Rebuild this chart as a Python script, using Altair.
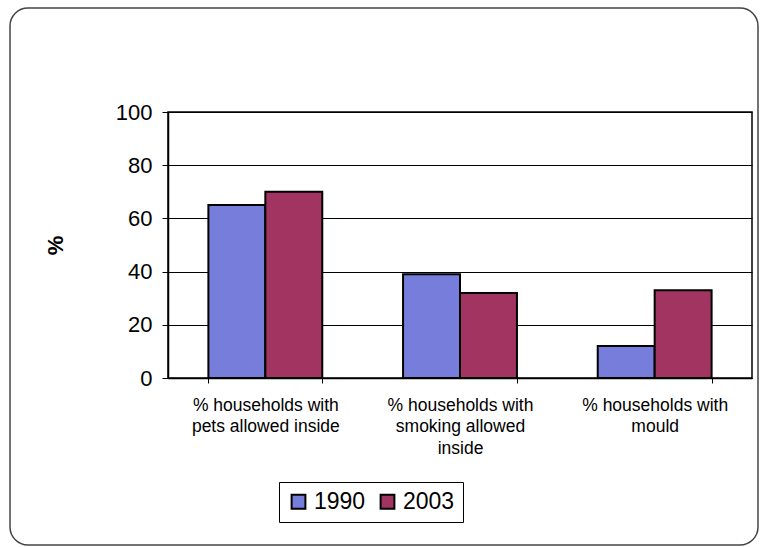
import altair as alt
import pandas as pd

categories = ["% households with|pets allowed inside",
              "% households with|smoking allowed|inside",
              "% households with|mould"]
years = ["1990", "2003"]
values_1990 = [65, 39, 12]
values_2003 = [70, 32, 33]

rows = []
for c, a, b in zip(categories, values_1990, values_2003):
    rows.append({"cat": c, "year": "1990", "value": a})
    rows.append({"cat": c, "year": "2003", "value": b})
df = pd.DataFrame(rows)

FONT = "Liberation Sans"
PL, PT, PW, PH = 168, 112, 584, 266

bars = alt.Chart(df).mark_bar(stroke="black", strokeWidth=2).encode(
    x=alt.X("cat:N", sort=categories,
            scale=alt.Scale(paddingInner=0.415, paddingOuter=0.2075),
            axis=alt.Axis(title=None, labelAngle=0, labelAlign="center",
                          labelExpr="split(datum.label, '|')",
                          labelFont=FONT, labelFontSize=17.5, labelColor="black",
                          labelLineHeight=21.5, tickBand="extent", tickSize=5,
                          tickColor="black", domainColor="black", domainWidth=1.5,
                          labelPadding=13, grid=False)),
    xOffset=alt.XOffset("year:N", sort=years),
    y=alt.Y("value:Q", scale=alt.Scale(domain=[0, 100], nice=False),
            axis=alt.Axis(values=[0, 20, 40, 60, 80, 100], title="%",
                          titleFont=FONT, titleFontSize=22, titleFontWeight="bold",
                          titleAngle=-90, titleX=-113, titleY=133,
                          titleAlign="center", titleBaseline="middle",
                          labelFont=FONT, labelFontSize=22, labelColor="black",
                          tickSize=6, tickColor="black", labelPadding=10,
                          domainColor="black", domainWidth=1.5,
                          grid=True, gridColor="black", gridWidth=1)),
    color=alt.Color("year:N", sort=years,
                    scale=alt.Scale(domain=years, range=["#777ddb", "#a23462"]),
                    legend=alt.Legend(title=None, orient="none", legendX=111, legendY=370,
                                      direction="horizontal", columns=2,
                                      symbolType="square", symbolSize=190,
                                      symbolStrokeColor="black", symbolStrokeWidth=2,
                                      labelFont=FONT, labelFontSize=23, labelColor="black",
                                      columnPadding=10, labelOffset=4,
                                      strokeColor="black", padding=8)),
)

frame = alt.Chart(alt.Data(values=[{}])).mark_rect(
    fill=None, stroke="#444", strokeWidth=1.5, cornerRadius=18, clip=False
).encode(
    x=alt.value(10 - PL), x2=alt.value(758 - PL),
    y=alt.value(8 - PT), y2=alt.value(545 - PT),
)

chart = alt.layer(frame, bars).properties(
    width=PW, height=PH,
    padding={"left": PL, "top": PT, "right": 767 - PL - PW, "bottom": 547 - PT - PH},
    autosize=alt.AutoSizeParams(type="none"),
    background="white",
).configure_view(stroke="black", strokeWidth=1.5)

chart.save("out.html", embed_options={"renderer": "svg", "actions": False})
